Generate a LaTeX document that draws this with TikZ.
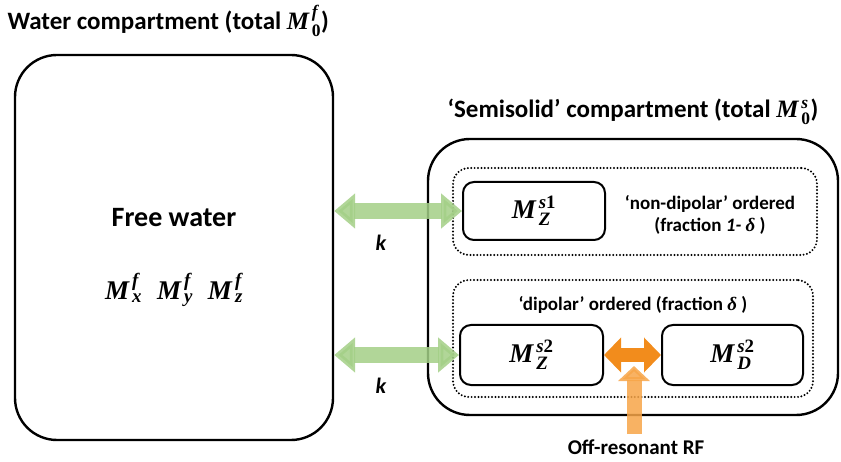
\RequirePackage{fix-cm}
\documentclass[tikz,border=0pt]{standalone}
\usepackage{amsmath}
\usepackage{fontspec}
\setmainfont{Carlito}
\newfontfamily\cambr{Liberation Serif}
\usetikzlibrary{arrows.meta,positioning}
\definecolor{leaf}{HTML}{A3CF86}
\definecolor{amber}{HTML}{F28C1C}
\definecolor{peach}{HTML}{F7A548}
\newcommand{\bi}[1]{\text{\cambr\bfseries\itshape #1}}
\newcommand{\bu}[1]{\text{\cambr\bfseries #1}}
\newcommand{\bM}[2]{\bi{M}\mkern2mu_{#1}^{#2}}

\begin{document}
\begin{tikzpicture}[x=1pt,y=-1pt,
  comp/.style={draw,line width=2.4pt,rounded corners=42pt,inner sep=0pt},
  group/.style={draw,line width=2.2pt,dash pattern=on 0pt off 3.4pt,line cap=round,rounded corners=16pt,inner sep=0pt},
  pool/.style={draw,line width=2pt,rounded corners=11pt,inner sep=0pt,font=\fontsize{27}{29}\selectfont},
  lbl/.style={font=\fontsize{19}{22}\selectfont\bfseries,align=center},
  ttl/.style={font=\fontsize{25}{28}\selectfont\bfseries},
  xchg/.style={leaf,opacity=.85,line width=16pt,{Triangle[length=21pt,width=34pt]}-{Triangle[length=21pt,width=34pt]}},
  pump/.style={amber,line width=14pt,{Triangle[length=17pt,width=34pt]}-{Triangle[length=17pt,width=34pt]}},
  drive/.style={peach,opacity=.85,line width=15pt,-{Triangle[length=15pt,width=31pt]}}]
\useasboundingbox (0,0) rectangle (841,462);
% compartments
\node[comp,minimum width=318pt,minimum height=385pt] (water) at (174,247.5) {};
\node[comp,minimum width=410pt,minimum height=276pt] (semi) at (633,277) {};
\node[ttl,anchor=west] (watertitle) at (4,21) {Water compartment (total $\bM{\bu{0}}{\bi{f}}$)};
\node[ttl] (semititle) at (633,112) {‘Semisolid’ compartment (total $\bM{\bu{0}}{\bi{s}}$)};
% free pool
\node[font=\fontsize{28}{30}\selectfont\bfseries] (free) at (174,218) {Free water};
\node[font=\fontsize{27}{29}\selectfont] (fmag) at (174,290) {$\bM{\bi{x}}{\bi{f}}\;\;\bM{\bi{y}}{\bi{f}}\;\;\bM{\bi{z}}{\bi{f}}$};
% semisolid pools
\node[group,minimum width=364pt,minimum height=87pt] (nondip) at (635,211.5) {};
\node[group,minimum width=360pt,minimum height=117pt] (dip) at (633,338.5) {};
\node[pool,minimum width=142pt,minimum height=58pt] (zs1) at (534,211) {$\bM{\bi{Z}}{\bu{{\itshape s}1}}$};
\node[pool,minimum width=143pt,minimum height=60pt] (zs2) at (531.5,355) {$\bM{\bi{Z}}{\bu{{\itshape s}2}}$};
\node[pool,minimum width=141pt,minimum height=60pt] (ds2) at (732.5,355) {$\bM{\bi{D}}{\bu{{\itshape s}2}}$};
\node[lbl] (nondiplbl) at (710,215) {‘non-dipolar’ ordered\\(fraction {\itshape 1-} \bi{δ} )};
\node[lbl] (diplbl) at (633,305) {‘dipolar’ ordered (fraction \bi{δ} )};
% exchange
\draw[xchg] (water.east |- zs1.west) -- (zs1.west);
\draw[xchg] (water.east |- zs2.west) -- (zs2.west);
\node[font=\fontsize{22}{24}\selectfont\bfseries\itshape] (k1) at (381,243) {k};
\node[font=\fontsize{22}{24}\selectfont\bfseries\itshape] (k2) at (381,386) {k};
\draw[pump] (zs2.east) -- (ds2.west);
% saturation
\node[font=\fontsize{21}{24}\selectfont\bfseries] (rf) at (636,447) {Off-resonant RF};
\coordinate (rftip) at (634,366);
\draw[drive] (rf.north -| rftip) ++(0,-2) -- (rftip);
\end{tikzpicture}
\end{document}
